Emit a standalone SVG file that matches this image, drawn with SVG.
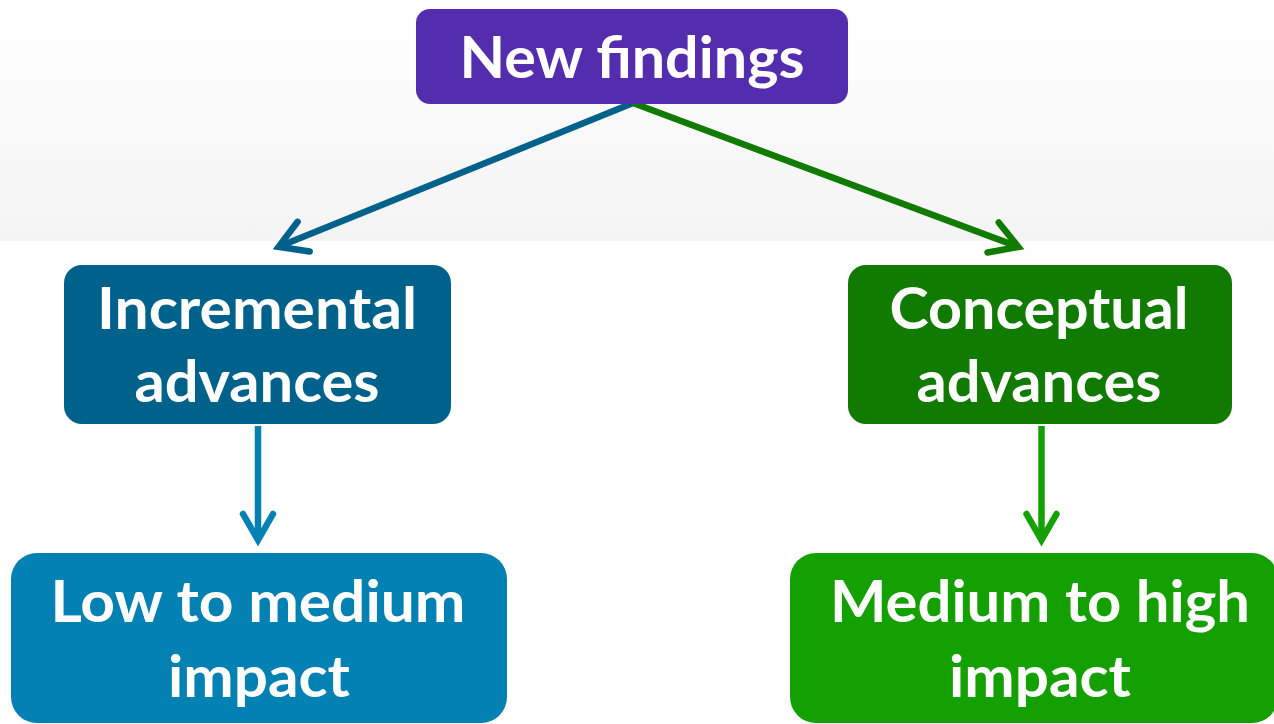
<svg xmlns="http://www.w3.org/2000/svg" width="1274" height="724" viewBox="0 0 1274 724">
<defs>
<linearGradient id="bg" x1="0" y1="0" x2="0" y2="1">
<stop offset="0" stop-color="#ffffff"/>
<stop offset="1" stop-color="#f4f4f4"/>
</linearGradient>
<marker id="mBlueD" markerUnits="userSpaceOnUse" viewBox="-40 -30 60 60" markerWidth="60" markerHeight="60" refX="0" refY="0" orient="auto" overflow="visible">
<path d="M-27,-16 L0,0 L-27,16" class="head" stroke="#00628a"/>
</marker>
<marker id="mGreenD" markerUnits="userSpaceOnUse" viewBox="-40 -30 60 60" markerWidth="60" markerHeight="60" refX="0" refY="0" orient="auto" overflow="visible">
<path d="M-27,-16 L0,0 L-27,16" class="head" stroke="#117a00"/>
</marker>
<marker id="mBlueV" markerUnits="userSpaceOnUse" viewBox="-40 -30 60 60" markerWidth="60" markerHeight="60" refX="0" refY="0" orient="auto" overflow="visible">
<path d="M-26,-15 L0,0 L-26,15" class="head" stroke="#0381b3"/>
</marker>
<marker id="mGreenV" markerUnits="userSpaceOnUse" viewBox="-40 -30 60 60" markerWidth="60" markerHeight="60" refX="0" refY="0" orient="auto" overflow="visible">
<path d="M-26,-15 L0,0 L-26,15" class="head" stroke="#14a000"/>
</marker>
</defs>
<style>
.head{fill:none;stroke-width:6.5;stroke-linecap:round;stroke-linejoin:miter;stroke-miterlimit:10}
.conn{fill:none;stroke-width:6.5;stroke-linecap:butt}
.lbl{font-family:Lato,"Open Sans","Liberation Sans",sans-serif;font-weight:700;font-size:57px;fill:#ffffff;text-anchor:middle}
</style>
<rect x="0" y="0" width="1274" height="724" fill="#ffffff"/>
<rect x="0" y="0" width="1274" height="241" fill="url(#bg)"/>

<g id="connectors">
<line class="conn" x1="633" y1="103" x2="278.6" y2="246.8" stroke="#00628a" marker-end="url(#mBlueD)"/>
<line class="conn" x1="633" y1="103" x2="1018.4" y2="246.9" stroke="#117a00" marker-end="url(#mGreenD)"/>
<line class="conn" x1="258" y1="426" x2="258" y2="540" stroke="#0381b3" marker-end="url(#mBlueV)"/>
<line class="conn" x1="1041.5" y1="426" x2="1041.5" y2="540" stroke="#14a000" marker-end="url(#mGreenV)"/>
</g>

<g id="new-findings">
<rect x="416" y="9" width="432" height="95" rx="14" fill="#532dae"/>
<text class="lbl" x="632" y="78" textLength="345" lengthAdjust="spacingAndGlyphs">New findings</text>
</g>

<g id="incremental-advances">
<rect x="64" y="265" width="387" height="159" rx="18" fill="#00628a"/>
<text class="lbl" x="257" y="329" textLength="320" lengthAdjust="spacingAndGlyphs">Incremental</text>
<text class="lbl" x="257" y="402" textLength="245" lengthAdjust="spacingAndGlyphs">advances</text>
</g>

<g id="conceptual-advances">
<rect x="848" y="265" width="384" height="159" rx="18" fill="#117a00"/>
<text class="lbl" x="1039" y="329" textLength="299" lengthAdjust="spacingAndGlyphs">Conceptual</text>
<text class="lbl" x="1039" y="402" textLength="245" lengthAdjust="spacingAndGlyphs">advances</text>
</g>

<g id="low-to-medium-impact">
<rect x="11" y="553" width="496" height="170" rx="26" fill="#0381b3"/>
<text class="lbl" x="258" y="622" textLength="415" lengthAdjust="spacingAndGlyphs">Low to medium</text>
<text class="lbl" x="259" y="697" textLength="182" lengthAdjust="spacingAndGlyphs">impact</text>
</g>

<g id="medium-to-high-impact">
<rect x="790" y="553" width="488" height="170" rx="26" fill="#14a000"/>
<text class="lbl" x="1040" y="622" textLength="420" lengthAdjust="spacingAndGlyphs">Medium to high</text>
<text class="lbl" x="1040" y="697" textLength="182" lengthAdjust="spacingAndGlyphs">impact</text>
</g>
</svg>
